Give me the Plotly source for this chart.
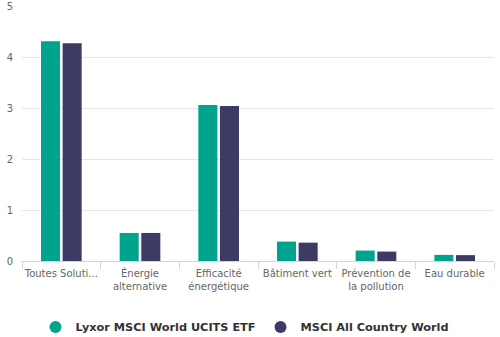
import plotly.graph_objects as go

categories = ["Toutes Soluti...", "Énergie<br>alternative", "Efficacité<br>énergétique",
              "Bâtiment vert", "Prévention de<br>la pollution", "Eau durable"]
series_names = ["Lyxor MSCI World UCITS ETF", "MSCI All Country World"]
lyxor = [4.31, 0.55, 3.06, 0.38, 0.205, 0.12]
msci = [4.27, 0.55, 3.04, 0.36, 0.185, 0.115]
colors = ["#00a38e", "#3c3b66"]
y_ticks = [0, 1, 2, 3, 4, 5]

fig = go.Figure()
for name, vals, col in zip(series_names, [lyxor, msci], colors):
    fig.add_trace(go.Bar(x=categories, y=vals, name=name, marker_color=col,
                         marker_line_width=0, hoverinfo="skip", showlegend=False,
                         legendgroup=name))
for name, col in zip(series_names, colors):
    fig.add_trace(go.Scatter(x=[None], y=[None], mode="markers", name=name,
                             marker=dict(color=col, size=11, symbol="circle"),
                             legendgroup=name, hoverinfo="skip"))

fig.update_layout(
    width=500, height=337,
    margin=dict(l=22, r=6, t=6, b=75.5, autoexpand=False),
    paper_bgcolor="white", plot_bgcolor="white",
    font=dict(family="DejaVu Sans", size=10, color="#666666"),
    barmode="group", bargap=0.45, bargroupgap=0.12,
    showlegend=True,
    legend=dict(orientation="h", x=0.49, xanchor="center", xref="container",
                y=10 / 337, yanchor="middle", yref="container",
                font=dict(family="DejaVu Sans", size=11.3, color="#333333", weight="bold"),
                itemsizing="constant", itemwidth=30),
    xaxis=dict(showline=True, linecolor="#ccd6eb", linewidth=1, ticks="outside",
               tickson="boundaries", ticklen=7, tickcolor="#ccd6eb", showgrid=False,
               tickangle=0, automargin=False, ticklabelstandoff=3,
               tickfont=dict(size=10, color="#666666")),
    yaxis=dict(range=[0, 5], tickvals=y_ticks, showgrid=True, gridcolor="#e6e6e6",
               zeroline=False, showline=False, ticks="", ticklabelstandoff=8,
               automargin=False,
               tickfont=dict(size=10, color="#666666")),
)

fig.write_html("out.html")
